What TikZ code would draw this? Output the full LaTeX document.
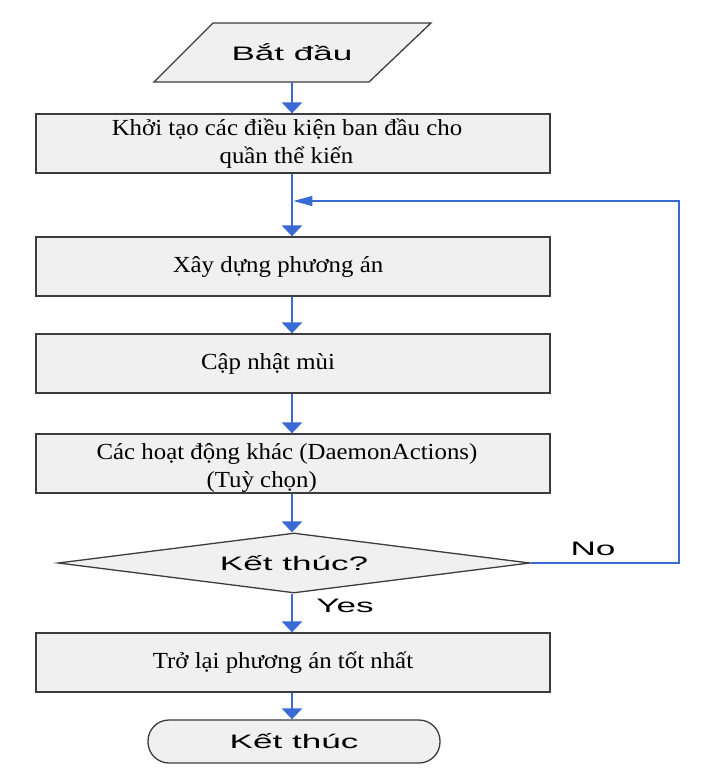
\documentclass[tikz,border=0pt]{standalone}
\usepackage{fontspec}
\setmainfont[FakeStretch=1.08]{Liberation Serif}
\newfontfamily\arialf[FakeStretch=1.8]{Liberation Sans}
\usetikzlibrary{arrows.meta,shapes.geometric}
\definecolor{flowblue}{HTML}{3A6AD4}
\definecolor{boxfill}{HTML}{F0F0F0}
\definecolor{boxline}{HTML}{3C3C3C}
\tikzset{
  x=1pt,y=-1pt,
  procbox/.style={draw=boxline,line width=1.3pt,fill=boxfill,minimum width=514pt,minimum height=59pt,inner sep=0pt,font=\fontsize{23}{28}\selectfont,align=center},
  sanslabel/.style={font=\arialf\fontsize{19.5}{22}\selectfont},
  flowarrow/.style={draw=flowblue,line width=2.8pt,-{Triangle[width=20pt,length=11pt]}},
  looparrow/.style={draw=flowblue,line width=1.4pt,-{Triangle[width=10pt,length=19pt]}},
}
\begin{document}
\begin{tikzpicture}
\useasboundingbox (0,0) rectangle (702,778);
% start parallelogram
\filldraw[draw=boxline,line width=1.3pt,fill=boxfill] (213,23) -- (431,23) -- (369,82) -- (154,82) -- cycle;
\node[sanslabel,minimum height=59pt,inner sep=0pt] (start) at (292,52.5) {Bắt đầu};
% process boxes
\node[procbox] (init) at (293,143.5) {\hspace*{-12pt}Khởi tạo các điều kiện ban đầu cho\\\hspace*{-13pt}quần thể kiến};
\node[procbox] (build) at (293,266.5) {\hspace*{-30pt}Xây dựng phương án};
\node[procbox] (update) at (293,363.5) {\hspace*{-50pt}Cập nhật mùi};
\node[procbox] (daemon) at (293,463.5) {\hspace*{-12pt}\raisebox{4.5pt}[0pt][0pt]{\begin{tabular}[t]{@{}l@{}}Các hoạt động khác (DaemonActions)\\\hspace*{110pt}(Tuỳ chọn)\end{tabular}}};
% decision
\node[diamond,draw=boxline,line width=1.3pt,fill=boxfill,minimum width=472pt,minimum height=60pt,aspect=7.8,inner sep=0pt,sanslabel] (dec) at (294,563) {Kết thúc?};
\node[procbox] (best) at (293,662.5) {\hspace*{-20pt}Trở lại phương án tốt nhất};
% terminator
\node[draw=boxline,line width=1.3pt,fill=boxfill,rounded corners=21pt,minimum width=292pt,minimum height=43pt,inner sep=0pt,sanslabel] (end) at (294,741.5) {Kết thúc};
% connectors
\coordinate (join) at (292,201);
\coordinate (corner1) at (679,563);
\coordinate (corner2) at (679,201);
\draw[flowarrow] (start.south -| 292,0) -- (init.north -| 292,0);
\draw[flowarrow] (init.south -| 292,0) -- (build.north -| 292,0);
\draw[flowarrow] (build.south -| 292,0) -- (update.north -| 292,0);
\draw[flowarrow] (update.south -| 292,0) -- (daemon.north -| 292,0);
\draw[flowarrow] (daemon.south -| 292,0) -- (dec.north -| 292,0);
\draw[flowarrow] (dec.south -| 292,0) -- (best.north -| 292,0);
\draw[flowarrow] (best.south -| 292,0) -- (end.north -| 292,0);
\draw[draw=flowblue,line width=1.4pt] (dec.east) -- (corner1) -- (corner2) -- ++(-4,0);
\draw[looparrow] (corner2) -- ([xshift=1.4pt]join);
\node[sanslabel,anchor=center] (nolab) at (593,549) {No};
\node[sanslabel,anchor=center] (yeslab) at (345,606) {Yes};
\end{tikzpicture}
\end{document}
